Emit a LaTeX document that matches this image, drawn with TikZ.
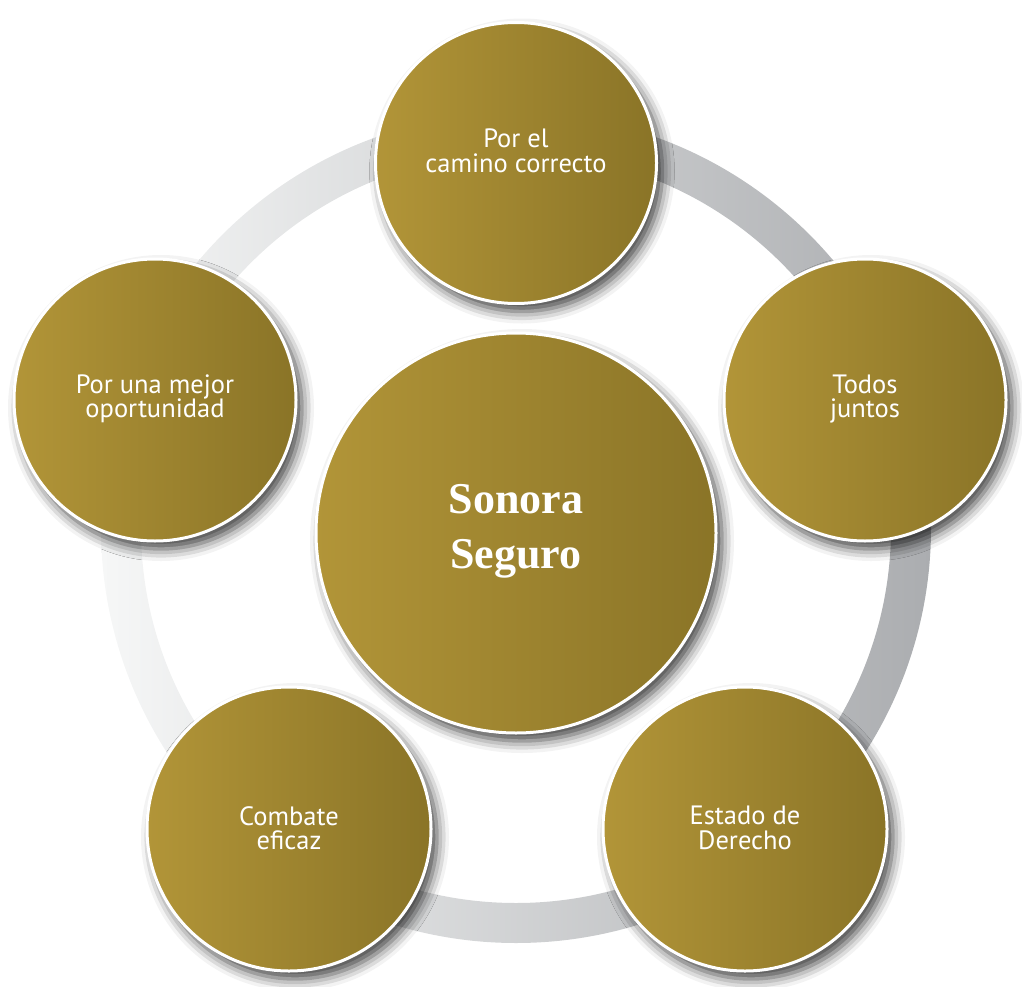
\documentclass[tikz,border=0pt]{standalone}
\usepackage{fontspec}
\setmainfont{PT Sans}
\newfontfamily\serifb{Liberation Serif}
\usetikzlibrary{shadows.blur}
\definecolor{goldL}{HTML}{B29538}
\definecolor{goldR}{HTML}{8A7427}
\definecolor{ringL}{HTML}{F6F7F7}
\definecolor{ringR}{HTML}{ABADB0}
\tikzset{
  bub/.style={circle, draw=white, line width=3pt, left color=goldL, right color=goldR,
    minimum size=#1, inner sep=0pt,
    blur shadow={shadow xshift=6pt, shadow yshift=-8pt, shadow blur radius=12pt, shadow opacity=75}},
  lab/.style={text=white, align=center, inner sep=0pt, font=\fontsize{26.5}{24.5}\selectfont},
  ttl/.style={text=white, align=center, inner sep=0pt, font=\serifb\bfseries\fontsize{44}{55}\selectfont}
}
\begin{document}
\begin{tikzpicture}[x=1pt,y=-1pt]
\useasboundingbox (0,0) rectangle (1022,987);
\coordinate (rc) at (516,528);
\shade[left color=ringL, right color=ringR, even odd rule] (rc) circle[radius=415] (rc) circle[radius=375];
\node[bub=281] (top) at (516,163) {};
\node[bub=282] (left) at (155,400) {};
\node[bub=282] (right) at (865,400) {};
\node[bub=284] (bl) at (289,829) {};
\node[bub=284] (br) at (745,829) {};
\node[bub=400] (center) at (516,533) {};
\node[lab] (tlab) at (516,151) {Por el\\camino correcto};
\node[lab] (llab) at (155,399) {Por una mejor\\oportunidad};
\node[lab] (rlab) at (865,399) {Todos\\juntos};
\node[lab] (bllab) at (289,828) {Combate\\eficaz};
\node[lab] (brlab) at (745,828) {Estado de\\Derecho};
\node[ttl] (clab) at (516,531) {Sonora\\Seguro};
\end{tikzpicture}
\end{document}
